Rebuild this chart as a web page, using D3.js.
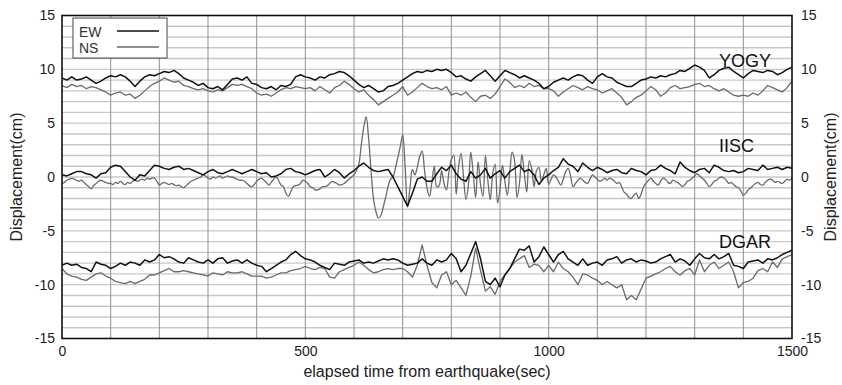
<!DOCTYPE html>
<html><head><meta charset="utf-8">
<script src="https://cdn.jsdelivr.net/npm/d3@7"></script>
<style>
body{margin:0;background:#fff}
svg{display:block}
text{font-family:"Liberation Sans",Arial,Helvetica,sans-serif}
</style>
</head><body>
<svg id="chart" width="842" height="385"></svg>
<script>
// sample times (s)
const time10 = d3.range(0, 1501, 10);
const time5 = d3.range(0, 1501, 5);
const xTickValues = [0, 500, 1000, 1500];
const yTickValues = [15, 10, 5, 0, -5, -10, -15];
const stationNames = ["YOGY", "IISC", "DGAR"];
const legendNames = ["EW", "NS"];

// YOGY (10 s)
const yogyEW = [
 9.2, 9.0, 9.3, 9.0, 9.1, 9.3, 9.0, 8.7, 8.9, 9.2,
 9.4, 9.3, 9.5, 9.3, 8.9, 8.4, 8.9, 9.3, 9.5, 9.4,
 9.6, 9.8, 9.7, 9.9, 9.6, 9.2, 9.0, 8.8, 8.5, 8.7,
 8.3, 8.2, 8.4, 8.1, 8.6, 9.1, 9.2, 9.0, 9.3, 8.7,
 8.6, 8.3, 8.2, 8.4, 8.1, 8.5, 8.4, 8.6, 9.3, 9.5,
 9.3, 9.2, 9.0, 9.3, 9.2, 9.5, 9.6, 9.8, 9.7, 9.4,
 9.0, 8.6, 8.3, 8.5, 8.2, 7.9, 8.0, 8.4, 8.5, 8.7,
 9.0, 9.3, 9.6, 9.8, 9.7, 9.9, 9.8, 10.0, 9.9, 10.0,
 9.7, 9.3, 9.4, 9.1, 8.9, 9.3, 9.6, 9.9, 9.4, 8.9,
 9.4, 9.9, 9.7, 9.5, 9.2, 9.4, 9.2, 9.0, 8.7, 8.2,
 8.4, 8.8, 9.0, 9.2, 9.0, 9.3, 9.5, 9.4, 9.0, 8.7,
 9.3, 9.6, 9.3, 9.2, 8.8, 8.6, 8.4, 8.4, 8.7, 9.0,
 9.1, 9.3, 9.2, 9.4, 9.3, 9.5, 9.6, 9.9, 9.8, 10.1,
 10.4, 10.2, 9.9, 9.2, 9.5, 9.9, 10.1, 10.2, 9.8, 9.5,
 9.2, 9.6, 9.9, 9.8, 9.7, 9.9, 9.8, 9.5, 9.7, 10.0,
 10.2];
const yogyNS = [
 8.5, 8.3, 8.6, 8.4, 8.5, 8.2, 8.4, 8.3, 8.1, 7.9,
 7.6, 7.8, 7.9, 7.6, 7.7, 7.3, 7.6, 8.0, 8.4, 8.7,
 8.9, 9.2, 9.0, 8.8, 8.9, 8.5, 8.4, 8.2, 8.1, 8.2,
 8.0, 7.9, 8.1, 8.0, 8.3, 8.6, 8.5, 8.6, 8.4, 8.2,
 7.8, 7.6, 7.7, 7.5, 7.8, 8.1, 8.3, 8.2, 8.4, 8.3,
 8.2, 8.3, 8.0, 8.4, 8.1, 7.8, 8.3, 8.5, 8.9, 8.6,
 8.2, 7.9, 8.1, 7.6, 7.2, 6.7, 7.0, 7.3, 7.6, 7.9,
 8.4, 7.6, 7.9, 8.3, 8.7, 8.4, 8.2, 8.3, 8.1, 8.4,
 7.6, 7.8, 7.6, 7.9, 7.4, 7.0, 7.5, 7.6, 7.3, 7.7,
 8.4, 9.1, 8.8, 8.3, 8.5, 8.3, 8.7, 8.4, 8.5, 8.2,
 8.2, 8.0, 7.5, 7.9, 8.2, 8.5, 8.3, 8.1, 8.4, 8.2,
 8.1, 7.8, 8.0, 8.2, 7.8, 7.4, 6.7, 7.0, 7.4, 7.6,
 8.0, 8.4, 8.1, 7.5, 7.8, 8.3, 8.5, 8.2, 8.3, 8.4,
 8.6, 8.7, 8.4, 8.5, 8.2, 8.0, 8.2, 7.9, 7.6, 7.5,
 7.6, 7.5, 7.8, 7.6, 8.0, 8.5, 8.3, 8.1, 7.9, 8.3,
 8.9];

// IISC
const iiscEW = [
 0.2, 0.1, 0.3, 0.5, 0.5, 0.3, 0.2, -0.1, 0.3, 0.4,
 0.9, 1.1, 1.0, 0.5, 0.0, -0.3, 0.2, 0.1, 0.6, 1.1,
 1.0, 0.8, 0.7, 0.9, 1.0, 0.7, 0.8, 0.6, 0.4, 0.2,
 0.5, 0.7, 0.4, 0.3, 0.5, 0.7, 0.5, 0.3, 0.5, 0.7,
 0.5, 0.3, 0.4, 0.0, 0.1, 0.3, 0.7, 0.8, 0.5, 0.4,
 0.2, 0.4, 0.6, 0.7, 0.0, 0.3, 0.7, 0.4, -0.1, 0.3,
 0.6, 1.0, 1.3, 0.9, 0.6, 0.5, 0.6, 0.7, 0.0, -0.9,
 -1.8, -2.7, -1.5, -0.2, 0.0, -0.4, -0.4, 0.3, 0.9, 0.6,
 1.1, 0.3, -0.2, -0.4, 0.5, -0.1, 0.2, 0.8, -0.1, 0.3,
 0.6, -0.1, 0.5, 0.8, 1.1, 0.5, 0.7, 0.2, -0.7, -0.1,
 0.2, 0.6, 0.9, 1.7, 1.2, 1.0, 0.5, 1.3, 0.9, 0.6,
 0.9, 0.7, 0.4, 0.6, 0.7, 0.4, 0.3, 0.8, 0.6, 0.5,
 0.2, 0.6, 0.7, 1.1, 0.8, 0.6, 0.3, 1.4, 0.9, 0.6,
 0.4, 0.7, 0.8, 0.4, 1.1, 0.9, 0.6, 0.5, 0.6, 0.4,
 0.5, 0.8, 0.7, 0.6, 1.1, 0.7, 0.8, 0.9, 0.7, 0.9,
 0.8];
// IISC NS (5 s)
const iiscNS = [
 -0.6, -0.5, -0.3, -0.2, -0.1, -0.2, -0.3, -0.4, -0.3, -0.5, -0.7, -0.9, -1.1, -0.8, -0.6, -0.4, -0.3, -0.4, -0.5, -0.6,
 -0.6, -0.7, -0.5, -0.6, -0.4, -0.6, -0.7, -0.5, -0.6, -0.4, -0.3, -0.4, -0.3, -0.2, -0.3, -0.1, -0.2, -0.1, -0.1, -0.4,
 -0.75, -0.6, -0.5, -0.6, -0.7, -0.6, -0.7, -0.8, -0.75, -0.9, -1.0, -0.8, -0.6, -0.4, -0.3, -0.2, -0.1, 0.0, 0.2, 0.1,
 -0.1, -0.2, 0.0, -0.1, 0.0, 0.1, -0.1, 0.0, 0.1, 0.0, 0.0, -0.1, -0.2, -0.3, -0.3, -0.4, -0.6, -0.8, -0.9, -0.7,
 -0.4, -0.2, -0.1, -0.3, -0.5, -0.75, -0.5, -0.2, 0.0, -0.3, -0.75, -0.9, -1.5, -1.8, -1.4, -0.9, -0.8, -0.75, -0.6, -0.3,
 -0.4, -0.6, -0.9, -1.0, -1.2, -1.2, -1.1, -0.9, -0.9, -0.8, -0.6, -0.4, -0.5, -0.6, -0.75, -0.7, -0.6, -0.4, -0.2, 0.0,
 0.2, 0.6, 1.2, 3.0, 4.6, 5.6, 3.6, 0.6, -2.0, -3.2, -3.8, -3.6, -2.8, -1.9, -0.9, -0.2, 0.0, 0.8, 1.8, 2.8,
 3.9, 1.0, -2.8, -1.0, 0.7, 0.2, 0.9, 1.9, 2.4, 0.6, -1.0, -1.8, -0.5, 1.0, -0.9, -0.8, 0.6, -0.6, -1.2, 0.4,
 1.6, 2.0, -1.6, 1.0, 2.2, 0.0, -2.1, -0.8, 2.3, 0.3, -1.9, 1.4, -0.7, -1.8, 2.0, -0.3, -2.1, 0.3, 1.2, -2.4,
 -1.2, 1.1, -0.4, -1.7, 0.4, 2.3, 1.5, -1.9, -0.6, 2.1, 0.3, -1.4, 1.5, 0.8, -0.9, 0.6, 0.9, -0.4, 0.2, 0.8,
 -0.7, -0.2, 0.2, 0.0, -0.4, -0.75, -0.2, 0.5, 0.8, 0.1, -0.9, -0.6, -0.3, -0.1, -0.3, -0.5, -0.6, -0.2, 0.2, 0.0,
 -0.2, -0.4, -0.3, -0.1, -0.3, -0.1, -0.2, -0.4, -0.6, -0.5, -0.9, -1.4, -1.6, -1.9, -2.0, -1.7, -1.5, -2.0, -1.6, -0.9,
 -0.6, -0.3, -0.1, -0.4, -0.6, -0.75, -0.4, -0.1, -0.2, -0.5, -0.6, -0.3, -0.4, -0.5, -0.7, -0.9, -0.7, -0.4, -0.3, -0.1,
 0.1, 0.3, 0.1, -0.1, -0.3, -0.6, -0.9, -0.7, -0.4, -0.3, -0.1, 0.0, -0.1, -0.3, -0.6, -0.5, -0.7, -0.9, -1.0, -1.3,
 -1.7, -1.5, -1.2, -1.0, -0.8, -0.6, -0.5, -0.7, -0.75, -0.5, -0.3, -0.2, -0.3, -0.5, -0.4, -0.5, -0.6, -0.4, -0.2, -0.3,
 -0.1];

// DGAR (10 s)
const dgarEW = [
 -8.2, -8.0, -8.2, -8.1, -8.4, -8.5, -8.8, -7.9, -8.1, -8.2,
 -8.5, -8.3, -8.0, -8.2, -7.9, -8.0, -8.2, -7.7, -7.9, -7.7,
 -7.2, -7.5, -7.4, -7.6, -7.9, -8.0, -7.5, -7.7, -7.9, -8.0,
 -7.7, -8.0, -7.6, -7.5, -8.0, -7.8, -7.7, -8.0, -7.7, -8.0,
 -8.2, -8.3, -8.8, -8.5, -8.2, -7.9, -7.7, -7.2, -6.9, -7.3,
 -7.6, -7.7, -7.9, -8.2, -8.4, -8.6, -8.0, -8.1, -8.2, -7.9,
 -7.8, -7.7, -8.0, -7.9, -8.0, -7.8, -7.6, -7.7, -7.6, -7.7,
 -8.0, -8.2, -8.1, -8.0, -7.6, -8.0, -8.2, -7.7, -7.9, -7.7,
 -7.1, -7.6, -8.8, -8.2, -7.1, -6.0, -7.6, -9.7, -10.0, -9.4,
 -10.2, -9.1, -8.5, -7.6, -6.7, -6.8, -6.4, -7.9, -7.4, -6.5,
 -7.2, -7.9, -7.2, -6.9, -7.6, -7.9, -8.2, -7.6, -8.2, -8.0,
 -7.9, -8.2, -7.7, -7.6, -7.4, -8.0, -7.7, -7.6, -7.9, -7.7,
 -7.8, -8.0, -7.9, -7.6, -7.4, -7.2, -7.9, -7.6, -7.8, -8.2,
 -7.6, -7.1, -7.5, -7.6, -7.2, -7.6, -7.4, -7.1, -8.2, -8.3,
 -8.5, -7.9, -7.8, -7.7, -8.0, -7.6, -7.7, -7.5, -7.2, -7.0,
 -6.8];
const dgarNS = [
 -8.5, -9.0, -9.2, -9.3, -9.5, -9.6, -9.3, -9.0, -8.9, -9.2,
 -9.4, -9.7, -9.8, -9.9, -9.7, -9.9, -9.7, -9.5, -9.1, -9.1,
 -8.9, -8.7, -8.5, -8.8, -8.8, -8.7, -8.8, -8.9, -9.0, -9.1,
 -9.2, -8.9, -9.0, -9.1, -8.8, -8.9, -8.9, -8.8, -9.0, -9.2,
 -9.2, -9.2, -9.4, -9.3, -9.1, -8.9, -8.9, -8.7, -8.6, -8.5,
 -8.3, -8.5, -8.6, -8.4, -8.5, -9.3, -9.4, -8.8, -8.6, -8.4,
 -8.2, -7.9, -8.2, -8.6, -8.9, -8.8, -8.6, -8.5, -8.6, -8.5,
 -8.5, -8.8, -9.3, -8.2, -6.3, -8.2, -9.8, -10.3, -9.1, -8.8,
 -10.0, -9.6, -10.3, -11.0, -9.2, -6.6, -8.7, -10.6, -10.2, -10.9,
 -9.7, -9.1, -8.5, -7.9, -7.6, -7.3, -8.4, -8.1, -8.2, -8.8,
 -8.2, -8.8, -7.9, -8.5, -8.8, -9.3, -10.0, -9.0, -9.1, -9.4,
 -9.6, -10.0, -9.7, -10.0, -10.3, -10.0, -11.4, -11.0, -11.4, -10.4,
 -9.4, -9.2, -9.0, -8.8, -8.5, -8.3, -8.8, -9.1, -8.7, -8.5,
 -9.1, -7.7, -8.8, -8.2, -7.9, -8.5, -8.2, -7.9, -8.8, -10.3,
 -9.8, -9.7, -9.4, -8.7, -8.5, -8.8, -7.9, -8.4, -7.6, -7.4,
 -7.2];

const series = [
  {name:"YOGY NS", t: time10, v: yogyNS, comp:"NS"},
  {name:"IISC NS", t: time5, v: iiscNS, comp:"NS", smooth: true},
  {name:"DGAR NS", t: time10, v: dgarNS, comp:"NS"},
  {name:"YOGY EW", t: time10, v: yogyEW, comp:"EW"},
  {name:"IISC EW", t: time10, v: iiscEW, comp:"EW"},
  {name:"DGAR EW", t: time10, v: dgarEW, comp:"EW"}
];

const svg = d3.select("#chart");
const L = 62, R = 792, T = 15.5, B = 338.5;
const x = d3.scaleLinear().domain([0, 1500]).range([L, R]);
const y = d3.scaleLinear().domain([-15, 15]).range([B, T]);

// horizontal grid (every 1 cm)
svg.append("g").selectAll("line").data(d3.range(-14, 15)).join("line")
  .attr("x1", L).attr("x2", R).attr("y1", d => y(d)).attr("y2", d => y(d))
  .attr("stroke", "#c8c8c8").attr("stroke-width", 1.4);
// vertical grid (every 100 s)
svg.append("g").selectAll("line").data(d3.range(100, 1500, 100)).join("line")
  .attr("x1", d => x(d)).attr("x2", d => x(d)).attr("y1", T).attr("y2", B)
  .attr("stroke", "#9a9a9a").attr("stroke-width", 1.1);

// traces
const colors = {EW: "#111", NS: "#6a6a6a"};
const lineLin = d3.line().x(d => x(d[0])).y(d => y(d[1]));
const lineSmooth = d3.line().x(d => x(d[0])).y(d => y(d[1])).curve(d3.curveCatmullRom.alpha(0.5));
svg.append("clipPath").attr("id", "pc").append("rect")
  .attr("x", L).attr("y", T).attr("width", R - L).attr("height", B - T);
svg.append("g").attr("clip-path", "url(#pc)").selectAll("path").data(series).join("path")
  .attr("d", s => (s.smooth ? lineSmooth : lineLin)(s.t.map((tt, i) => [tt, s.v[i]])))
  .attr("fill", "none").attr("stroke", s => colors[s.comp])
  .attr("stroke-width", s => s.comp === "EW" ? 1.5 : 1.3)
  .attr("stroke-linejoin", "round");

// frame
svg.append("rect").attr("x", L).attr("y", T).attr("width", R - L).attr("height", B - T)
  .attr("fill", "none").attr("stroke", "#111").attr("stroke-width", 1.6);

// axes
const fmt = d => String(d);
const axL = svg.append("g").attr("transform", `translate(${L},0)`)
  .call(d3.axisLeft(y).tickValues(yTickValues).tickSize(0).tickPadding(7).tickFormat(fmt));
const axR = svg.append("g").attr("transform", `translate(${R},0)`)
  .call(d3.axisRight(y).tickValues(yTickValues).tickSize(0).tickPadding(9).tickFormat(fmt));
const axB = svg.append("g").attr("transform", `translate(0,${B})`)
  .call(d3.axisBottom(x).tickValues(xTickValues).tickSize(0).tickPadding(8).tickFormat(fmt));
[axL, axR, axB].forEach(a => {
  a.select(".domain").remove();
  a.selectAll("text").attr("font-size", 14).attr("fill", "#222")
    .attr("font-family", "'Liberation Sans',Arial,sans-serif");
});

// axis titles
svg.append("text").attr("x", (L + R) / 2).attr("y", 377).attr("text-anchor", "middle")
  .attr("font-size", 16).attr("fill", "#222").text("elapsed time from earthquake(sec)");
svg.append("text").attr("transform", `translate(22,${(T + B) / 2}) rotate(-90)`)
  .attr("text-anchor", "middle").attr("font-size", 16).attr("fill", "#222").text("Displacement(cm)");
svg.append("text").attr("transform", `translate(836,${(T + B) / 2}) rotate(-90)`)
  .attr("text-anchor", "middle").attr("font-size", 16).attr("fill", "#222").text("Displacement(cm)");

// station labels
const labelPos = [{t: 1350, v: 10.2}, {t: 1350, v: 2.3}, {t: 1350, v: -6.6}];
svg.append("g").selectAll("text").data(stationNames).join("text")
  .attr("x", (d, i) => x(labelPos[i].t)).attr("y", (d, i) => y(labelPos[i].v))
  .attr("font-size", 18).attr("fill", "#111").text(d => d);

// legend
const lg = svg.append("g");
lg.append("rect").attr("x", 73).attr("y", 18).attr("width", 94).attr("height", 40)
  .attr("fill", "#fff").attr("stroke", "#444").attr("stroke-width", 1);
legendNames.forEach((n, i) => {
  const yy = 31 + i * 16;
  lg.append("text").attr("x", 79).attr("y", yy + 6).attr("font-size", 14).attr("fill", "#333").text(n);
  lg.append("line").attr("x1", 117).attr("x2", 159).attr("y1", yy).attr("y2", yy)
    .attr("stroke", colors[n]).attr("stroke-width", n === "EW" ? 1.5 : 1.3);
});
</script>
</body></html>
